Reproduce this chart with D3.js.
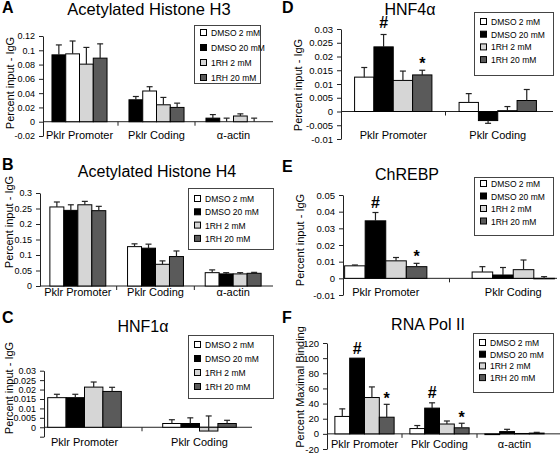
<!DOCTYPE html>
<html><head><meta charset="utf-8">
<script src="https://cdn.jsdelivr.net/npm/d3@7"></script>
<style>
body{margin:0;background:#fff}
svg{display:block}
text{font-family:"Liberation Sans",Arial,sans-serif;fill:#000}
</style>
</head><body>
<svg id="chart" width="560" height="455"></svg>
<script>
// ---------- DATA ----------
const seriesKeys = ["dmso2", "dmso20", "rh2", "rh20"];
const seriesNames = ["DMSO 2 mM", "DMSO 20 mM", "1RH 2 mM", "1RH 20 mM"];
const seriesFill = {dmso2: "#ffffff", dmso20: "#000000", rh2: "#d6d6d6", rh20: "#5a5a5a"};

// Panel A - Acetylated Histone H3
const catsA = ["Pklr Promoter", "Pklr Coding", "α-actin"];
const orderA = ["dmso20", "dmso2", "rh2", "rh20"];
const valuesA = {dmso2: [0.095, 0.043, 0.0], dmso20: [0.0936, 0.0307, 0.005], rh2: [0.0806, 0.0237, 0.008], rh20: [0.089, 0.020, 0.0]};
const errorsA = {dmso2: [0.113, 0.049, 0.005], dmso20: [0.1075, 0.0353, 0.010], rh2: [0.104, 0.034, 0.011], rh20: [0.109, 0.026, 0.005]};
const ticksA = [-0.02, 0, 0.02, 0.04, 0.06, 0.08, 0.1, 0.12];

// Panel B - Acetylated Histone H4
const catsB = ["Pklr Promoter", "Pklr Coding", "α-actin"];
const valuesB = {dmso2: [0.255, 0.127, 0.043], dmso20: [0.244, 0.122, 0.039], rh2: [0.262, 0.070, 0.039], rh20: [0.243, 0.095, 0.041]};
const errorsB = {dmso2: [0.271, 0.136, 0.052], dmso20: [0.262, 0.135, 0.043], rh2: [0.273, 0.081, 0.043], rh20: [0.257, 0.113, 0.044]};
const ticksB = [0, 0.05, 0.1, 0.15, 0.2, 0.25, 0.3];

// Panel C - HNF1α
const catsC = ["Pklr Promoter", "Pklr Coding"];
const valuesC = {dmso2: [0.0157, 0.002], dmso20: [0.0157, 0.002], rh2: [0.0213, -0.002], rh20: [0.019, 0.002]};
const errorsC = {dmso2: [0.0175, 0.004], dmso20: [0.0175, 0.005], rh2: [0.024, 0.006], rh20: [0.0212, 0.0037]};
const ticksC = [-0.005, 0, 0.005, 0.01, 0.015, 0.02, 0.025, 0.03];
const tickLabelsC = ["", "0", "0.005", "0.01", "0.015", "0.02", "0.025", "0.03"];

// Panel D - HNF4α
const catsD = ["Pklr Promoter", "Pklr Coding"];
const valuesD = {dmso2: [0.0125, 0.0033], dmso20: [0.0235, -0.0033], rh2: [0.0113, 0.0003], rh20: [0.0133, 0.004]};
const errorsD = {dmso2: [0.016, 0.0065], dmso20: [0.028, -0.0043], rh2: [0.0147, 0.0018], rh20: [0.015, 0.008]};
const ticksD = [-0.01, -0.005, 0, 0.005, 0.01, 0.015, 0.02, 0.025, 0.03];
const marksD = [{cat: "Pklr Promoter", key: "dmso20", sym: "#", at: 0.0304}, {cat: "Pklr Promoter", key: "rh20", sym: "*", at: 0.0154}];

// Panel E - ChREBP
const catsE = ["Pklr Promoter", "Pklr Coding"];
const valuesE = {dmso2: [0.0075, 0.0038], dmso20: [0.0345, 0.002], rh2: [0.0105, 0.0052], rh20: [0.007, -0.0003]};
const errorsE = {dmso2: [0.008, 0.007], dmso20: [0.0395, 0.0065], rh2: [0.0125, 0.011], rh20: [0.009, 0.001]};
const ticksE = [-0.01, 0, 0.01, 0.02, 0.03, 0.04, 0.05];
const marksE = [{cat: "Pklr Promoter", key: "dmso20", sym: "#", at: 0.042}, {cat: "Pklr Promoter", key: "rh20", sym: "*", at: 0.0096}];

// Panel F - RNA Pol II
const catsF = ["Pklr Promoter", "Pklr Coding", "α-actin"];
const valuesF = {dmso2: [23, 7, -1], dmso20: [100, 34, 3], rh2: [48, 13, 0.5], rh20: [22, 8, 1]};
const errorsF = {dmso2: [33, 11, -1], dmso20: [100, 41, 6], rh2: [62, 17, 0.5], rh20: [39, 14, 2]};
const ticksF = [-20, 0, 20, 40, 60, 80, 100, 120];
const marksF = [{cat: "Pklr Promoter", key: "dmso20", sym: "#", at: 106}, {cat: "Pklr Promoter", key: "rh20", sym: "*", at: 40},
                {cat: "Pklr Coding", key: "dmso20", sym: "#", at: 47}, {cat: "Pklr Coding", key: "rh20", sym: "*", at: 15}];

// ---------- LAYOUT ----------
const panels = [
  {letter: "A", title: "Acetylated Histone H3", ylab: "Percent input - IgG", cats: catsA, order: orderA, values: valuesA, errors: errorsA, ticks: ticksA, marks: [],
   L: {ax: 43, xEnd: 273, yDom: [-0.02, 0.12], yRng: [136, 36], band: [41, 272], frac: 0.715, leg: [194, 25, 66, 58, 33, 15],
       title: [149, 15], titleSize: 16.5, letterPos: [2, 13], ylabPos: [10, 83], catY: 139, tickFont: 9}},
  {letter: "B", title: "Acetylated Histone H4", ylab: "Percent input - IgG", cats: catsB, order: seriesKeys, values: valuesB, errors: errorsB, ticks: ticksB, marks: [],
   L: {ax: 40, xEnd: 273, yDom: [0, 0.3], yRng: [286, 193], band: [39, 272], frac: 0.72, leg: [188, 188, 85, 61, 199, 13.3],
       title: [157, 177], titleSize: 16, letterPos: [2, 170], ylabPos: [9, 222], catY: 296, tickFont: 9}},
  {letter: "C", title: "HNF1α", ylab: "Percent input - IgG", cats: catsC, order: seriesKeys, values: valuesC, errors: errorsC, ticks: ticksC, tickLabels: tickLabelsC, marks: [],
   L: {ax: 44, xEnd: 252, yDom: [-0.005, 0.03], yRng: [436.7, 370.7], band: [27, 257], frac: 0.64, leg: [188, 335, 85, 63, 345, 14],
       title: [143, 332], titleSize: 16, letterPos: [2, 323], ylabPos: [9, 388], catY: 446, tickFont: 9}},
  {letter: "D", title: "HNF4α", ylab: "Percent input - IgG", cats: catsD, order: seriesKeys, values: valuesD, errors: errorsD, ticks: ticksD, marks: marksD,
   L: {ax: 341, xEnd: 553, yDom: [-0.01, 0.03], yRng: [139, 29], band: [341, 550], frac: 0.74, leg: [474, 12, 79, 63, 22, 12.7],
       title: [410, 15], titleSize: 16, letterPos: [282, 13], ylabPos: [298, 85], catY: 139, tickFont: 9.5}},
  {letter: "E", title: "ChREBP", ylab: "Percent input - IgG", cats: catsE, order: seriesKeys, values: valuesE, errors: errorsE, ticks: ticksE, marks: marksE,
   L: {ax: 343, xEnd: 557, yDom: [-0.01, 0.05], yRng: [295, 195], band: [322, 577], frac: 0.645, leg: [474, 177, 79, 58, 184, 12.5],
       title: [407, 180], titleSize: 16, letterPos: [282, 172], ylabPos: [300, 240], catY: 296, tickFont: 9.5}},
  {letter: "F", title: "RNA Pol II", ylab: "Percent Maximal Binding", cats: catsF, order: seriesKeys, values: valuesF, errors: errorsF, ticks: ticksF, marks: marksF,
   L: {ax: 327, xEnd: 560, yDom: [-20, 120], yRng: [449, 343], band: [327, 552], frac: 0.79, leg: [473, 333, 80, 59, 343, 11.7],
       title: [428, 330], titleSize: 16, letterPos: [282, 323], ylabPos: [300, 387], catY: 448, tickFont: 9.5}}
];

const svg = d3.select("#chart");
const fmt = d => String(+d.toFixed(4));

panels.forEach(p => {
  const L = p.L;
  const g = svg.append("g");
  const y = d3.scaleLinear().domain(L.yDom).range(L.yRng);
  const x = d3.scaleBand().domain(p.cats).range(L.band).padding(0);
  const bw = x.bandwidth();
  const inner = d3.scaleBand().domain(p.order).range([bw * (1 - L.frac) / 2, bw * (1 + L.frac) / 2]).padding(0);

  // panel letter & title
  g.append("text").attr("x", L.letterPos[0]).attr("y", L.letterPos[1]).attr("font-size", 16).attr("font-weight", "bold").text(p.letter);
  g.append("text").attr("x", L.title[0]).attr("y", L.title[1]).attr("text-anchor", "middle").attr("font-size", L.titleSize).text(p.title);
  g.append("text").attr("transform", `translate(${L.ylabPos[0]},${L.ylabPos[1]}) rotate(-90)`).attr("text-anchor", "middle")
    .attr("dominant-baseline", "central").attr("font-size", 11).text(p.ylab);

  // y axis
  const yAxis = d3.axisLeft(y).tickValues(p.ticks).tickSize(4).tickSizeOuter(0).tickPadding(4)
    .tickFormat((d, i) => p.tickLabels ? p.tickLabels[i] : fmt(d));
  const ya = g.append("g").attr("transform", `translate(${L.ax},0)`).call(yAxis);
  ya.selectAll("text").attr("font-size", L.tickFont).attr("font-family", '"Liberation Sans",Arial,sans-serif');
  ya.selectAll("line,path").attr("stroke", "#222");

  // x axis line at zero with category separators
  const y0 = y(0);
  g.append("line").attr("x1", L.ax).attr("x2", L.xEnd).attr("y1", y0).attr("y2", y0).attr("stroke", "#222");
  g.selectAll(".sep").data(p.cats.slice(1)).join("line")
    .attr("x1", d => x(d)).attr("x2", d => x(d)).attr("y1", y0).attr("y2", y0 + 4).attr("stroke", "#222");
  g.selectAll(".cl").data(p.cats).join("text")
    .attr("x", d => x(d) + bw / 2).attr("y", L.catY).attr("text-anchor", "middle").attr("font-size", 11).text(d => d);

  // bars
  const recs = [];
  p.cats.forEach((c, ci) => p.order.forEach(k => recs.push({c, k, v: p.values[k][ci], e: p.errors[k][ci]})));
  const bx = d => x(d.c) + inner(d.k);
  const ibw = inner.bandwidth();
  g.selectAll(".bar").data(recs).join("rect")
    .attr("x", bx).attr("width", ibw)
    .attr("y", d => y(Math.max(0, d.v))).attr("height", d => Math.abs(y(0) - y(d.v)))
    .attr("fill", d => seriesFill[d.k]).attr("stroke", "#000").attr("stroke-width", 1);
  // error bars
  const cap = 3;
  g.selectAll(".eb").data(recs.filter(d => d.e !== d.v)).join("line")
    .attr("x1", d => bx(d) + ibw / 2).attr("x2", d => bx(d) + ibw / 2)
    .attr("y1", d => y(d.v)).attr("y2", d => y(d.e)).attr("stroke", "#222").attr("stroke-width", 1.2);
  g.selectAll(".ec").data(recs.filter(d => d.e !== d.v)).join("line")
    .attr("x1", d => bx(d) + ibw / 2 - cap).attr("x2", d => bx(d) + ibw / 2 + cap)
    .attr("y1", d => y(d.e)).attr("y2", d => y(d.e)).attr("stroke", "#222").attr("stroke-width", 1.2);

  // significance marks
  g.selectAll(".mk").data(p.marks).join("text")
    .attr("x", d => x(d.cat) + inner(d.key) + ibw / 2).attr("y", d => y(d.at))
    .attr("text-anchor", "middle").attr("font-size", 16).attr("font-weight", "bold").text(d => d.sym);

  // legend
  const [lx, ly, lw, lh, r0, step] = L.leg;
  const lg = g.append("g");
  lg.append("rect").attr("x", lx + 0.5).attr("y", ly + 0.5).attr("width", lw).attr("height", lh).attr("fill", "#fff").attr("stroke", "#444");
  const items = lg.selectAll(".li").data(seriesKeys).join("g").attr("transform", (d, i) => `translate(${lx + 6},${r0 + i * step})`);
  items.append("rect").attr("x", 0.5).attr("y", -3.5).attr("width", 6).attr("height", 6)
    .attr("fill", d => seriesFill[d]).attr("stroke", "#000");
  items.append("text").attr("x", 11).attr("y", 0).attr("dominant-baseline", "central").attr("font-size", 8.5)
    .text((d, i) => seriesNames[i]);
});
</script>
</body></html>
